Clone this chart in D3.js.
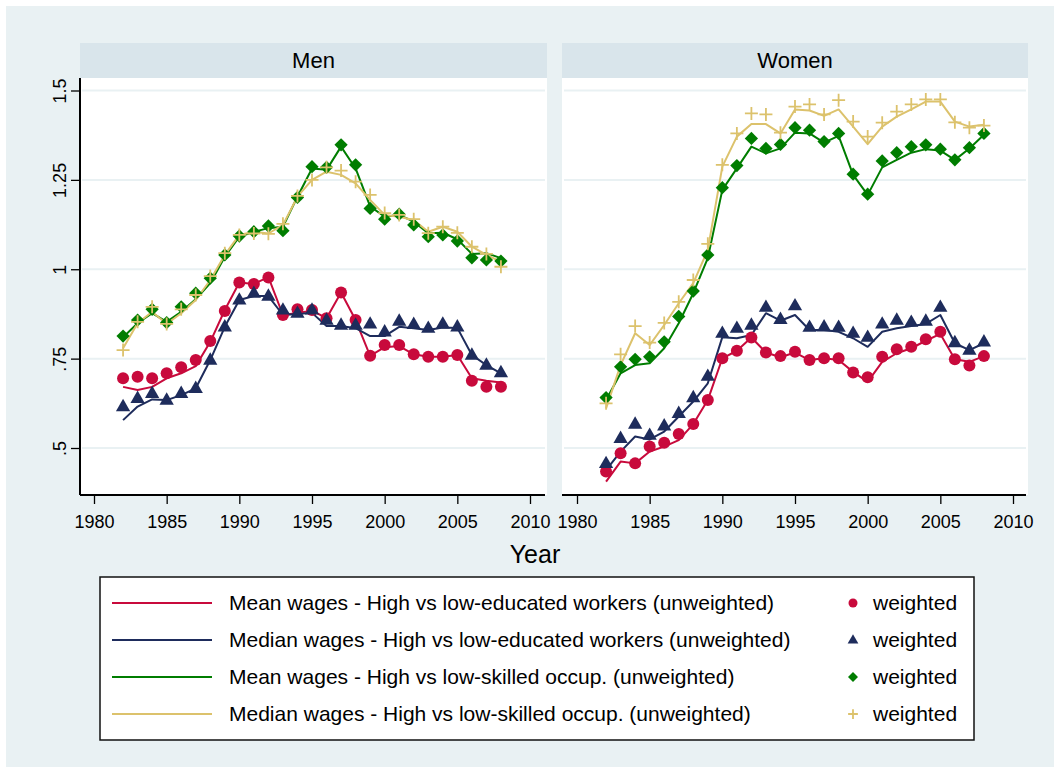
<!DOCTYPE html>
<html lang="en">
<head>
  <meta charset="UTF-8" />
  <title>Wage ratios - Men and Women</title>
  <script src="https://d3js.org/d3.v7.min.js"></script>
  <style>
    html, body { margin: 0; padding: 0; background: #fff; }
    svg text { font-family: "Liberation Sans", Arial, sans-serif; fill: #000; }
  </style>
</head>
<body>
  <div id="chart"></div>

  <script>
    // ---- data ----
    var years = [1982, 1983, 1984, 1985, 1986, 1987, 1988, 1989, 1990, 1991, 1992, 1993, 1994,
                 1995, 1996, 1997, 1998, 1999, 2000, 2001, 2002, 2003, 2004, 2005, 2006, 2007, 2008];

    var panels = ['Men', 'Women'];
    var xTicks = [1980, 1985, 1990, 1995, 2000, 2005, 2010];
    var yTicks = [0.5, 0.75, 1, 1.25, 1.5];
    var yTickLabels = ['.5', '.75', '1', '1.25', '1.5'];

    // Men
    var menMeanEduLine   = [0.671, 0.662, 0.671, 0.695, 0.709, 0.729, 0.797, 0.886, 0.963, 0.959, 0.978, 0.872, 0.878,
                            0.884, 0.863, 0.935, 0.858, 0.758, 0.782, 0.785, 0.762, 0.755, 0.755, 0.760, 0.695, 0.688, 0.683];
    var menMeanEduPts    = [0.695, 0.699, 0.695, 0.709, 0.726, 0.746, 0.799, 0.883, 0.963, 0.959, 0.977, 0.872, 0.888,
                            0.886, 0.863, 0.935, 0.858, 0.758, 0.788, 0.788, 0.762, 0.755, 0.755, 0.760, 0.688, 0.671, 0.671];
    var menMedEduLine    = [0.578, 0.616, 0.636, 0.634, 0.648, 0.667, 0.746, 0.839, 0.914, 0.925, 0.925, 0.872, 0.875,
                            0.878, 0.841, 0.841, 0.835, 0.813, 0.813, 0.839, 0.835, 0.830, 0.837, 0.836, 0.760, 0.732, 0.709];
    var menMedEduPts     = [0.616, 0.639, 0.653, 0.634, 0.653, 0.667, 0.746, 0.839, 0.914, 0.933, 0.925, 0.886, 0.877,
                            0.886, 0.858, 0.844, 0.844, 0.847, 0.825, 0.855, 0.846, 0.835, 0.847, 0.839, 0.760, 0.732, 0.711];
    var menMeanOccLine   = [0.810, 0.849, 0.877, 0.853, 0.881, 0.916, 0.961, 1.035, 1.091, 1.105, 1.115, 1.119, 1.203,
                            1.282, 1.278, 1.343, 1.282, 1.176, 1.147, 1.152, 1.133, 1.101, 1.102, 1.084, 1.043, 1.045, 1.031];
    var menMeanOccPts    = [0.813, 0.858, 0.888, 0.851, 0.895, 0.933, 0.975, 1.040, 1.093, 1.105, 1.121, 1.108, 1.201,
                            1.287, 1.285, 1.348, 1.292, 1.170, 1.140, 1.154, 1.124, 1.091, 1.096, 1.079, 1.032, 1.026, 1.023];
    var menMedOccLine    = [0.779, 0.849, 0.881, 0.847, 0.877, 0.914, 0.970, 1.040, 1.096, 1.105, 1.100, 1.124, 1.203,
                            1.250, 1.273, 1.264, 1.240, 1.194, 1.152, 1.147, 1.138, 1.105, 1.119, 1.105, 1.063, 1.040, 1.021];
    var menMedOccPts     = [0.774, 0.853, 0.895, 0.847, 0.888, 0.928, 0.981, 1.045, 1.096, 1.100, 1.099, 1.127, 1.205,
                            1.250, 1.285, 1.276, 1.245, 1.208, 1.157, 1.152, 1.140, 1.101, 1.119, 1.102, 1.063, 1.043, 1.007];

    // Women
    var womenMeanEduLine = [0.406, 0.462, 0.457, 0.490, 0.504, 0.522, 0.567, 0.634, 0.751, 0.772, 0.809, 0.767, 0.754,
                            0.767, 0.746, 0.751, 0.746, 0.713, 0.685, 0.741, 0.765, 0.779, 0.800, 0.819, 0.748, 0.741, 0.757];
    var womenMeanEduPts  = [0.434, 0.485, 0.457, 0.504, 0.515, 0.539, 0.567, 0.634, 0.751, 0.772, 0.809, 0.767, 0.757,
                            0.769, 0.746, 0.751, 0.751, 0.711, 0.698, 0.755, 0.776, 0.783, 0.804, 0.825, 0.748, 0.731, 0.757];
    var womenMedEduLine  = [0.438, 0.490, 0.532, 0.524, 0.546, 0.588, 0.630, 0.681, 0.810, 0.807, 0.816, 0.877, 0.856,
                            0.872, 0.830, 0.830, 0.825, 0.807, 0.783, 0.825, 0.835, 0.841, 0.847, 0.872, 0.793, 0.774, 0.793];
    var womenMedEduPts   = [0.457, 0.527, 0.567, 0.536, 0.562, 0.597, 0.641, 0.701, 0.821, 0.835, 0.844, 0.894, 0.860,
                            0.898, 0.838, 0.839, 0.838, 0.821, 0.810, 0.847, 0.858, 0.852, 0.855, 0.894, 0.795, 0.774, 0.797];
    var womenMeanOccLine = [0.634, 0.709, 0.732, 0.737, 0.779, 0.849, 0.933, 1.031, 1.222, 1.282, 1.343, 1.324, 1.338,
                            1.382, 1.380, 1.354, 1.373, 1.264, 1.208, 1.285, 1.306, 1.326, 1.336, 1.332, 1.306, 1.338, 1.376];
    var womenMeanOccPts  = [0.641, 0.727, 0.748, 0.755, 0.797, 0.868, 0.939, 1.040, 1.228, 1.290, 1.366, 1.338, 1.349,
                            1.396, 1.389, 1.357, 1.380, 1.266, 1.210, 1.303, 1.326, 1.343, 1.348, 1.336, 1.306, 1.340, 1.380];
    var womenMedOccLine  = [0.611, 0.732, 0.821, 0.788, 0.844, 0.905, 0.961, 1.054, 1.287, 1.371, 1.406, 1.406, 1.380,
                            1.447, 1.444, 1.429, 1.447, 1.399, 1.350, 1.399, 1.427, 1.447, 1.469, 1.469, 1.413, 1.399, 1.404];
    var womenMedOccPts   = [0.625, 0.762, 0.841, 0.795, 0.850, 0.909, 0.970, 1.071, 1.292, 1.380, 1.436, 1.433, 1.382,
                            1.455, 1.461, 1.433, 1.473, 1.413, 1.371, 1.410, 1.441, 1.461, 1.475, 1.475, 1.411, 1.396, 1.402];

    var legendLabels = [
      'Mean wages - High vs low-educated workers (unweighted)',
      'Median wages - High vs low-educated workers (unweighted)',
      'Mean wages - High vs low-skilled occup. (unweighted)',
      'Median wages - High vs low-skilled occup. (unweighted)'
    ];
    var colors = ['#c80a3c', '#1e2c5c', '#007d00', '#dcc26c'];
    var markers = ['circle', 'triangle', 'diamond', 'plus'];

    var seriesByPanel = {
      Men: [
        { line: menMeanEduLine, pts: menMeanEduPts },
        { line: menMedEduLine, pts: menMedEduPts },
        { line: menMeanOccLine, pts: menMeanOccPts },
        { line: menMedOccLine, pts: menMedOccPts }
      ],
      Women: [
        { line: womenMeanEduLine, pts: womenMeanEduPts },
        { line: womenMedEduLine, pts: womenMedEduPts },
        { line: womenMeanOccLine, pts: womenMeanOccPts },
        { line: womenMedOccLine, pts: womenMedOccPts }
      ]
    };

    // ---- layout ----
    var W = 1060, H = 773;
    var bg = '#e9f1f3', stripFill = '#d9e5eb', gridColor = '#e9f1f3';
    var panelBox = {
      Men:   { left: 80, right: 547, x0: 94, x1: 530 },
      Women: { left: 562, right: 1028, x0: 577, x1: 1013 }
    };
    var stripTop = 43, plotTop = 78, plotBottom = 495;

    var y = d3.scaleLinear().domain([0.5, 1.5]).range([448, 90.5]);

    var svg = d3.select('#chart').append('svg')
      .attr('width', W)
      .attr('height', H);

    svg.append('rect').attr('x', 0).attr('y', 0).attr('width', W).attr('height', H).attr('fill', '#fff');
    svg.append('rect').attr('x', 6).attr('y', 6).attr('width', W - 12).attr('height', H - 12).attr('fill', bg);

    function drawMarker(g, type, cx, cy, color, scale) {
      var s = scale || 1;
      if (type === 'circle') {
        g.append('circle').attr('cx', cx).attr('cy', cy).attr('r', 6 * s).attr('fill', color);
      } else if (type === 'triangle') {
        g.append('path')
          .attr('d', d3.symbol().type(d3.symbolTriangle).size(88 * s * s)())
          .attr('transform', 'translate(' + cx + ',' + (cy + 0.5) + ')')
          .attr('fill', color);
      } else if (type === 'diamond') {
        g.append('path')
          .attr('d', d3.symbol().type(d3.symbolSquare).size(88 * s * s)())
          .attr('transform', 'translate(' + cx + ',' + cy + ') rotate(45)')
          .attr('fill', color);
      } else {
        var a = 6.5 * s;
        g.append('path')
          .attr('d', 'M' + (cx - a) + ',' + cy + 'H' + (cx + a) + 'M' + cx + ',' + (cy - a) + 'V' + (cy + a))
          .attr('stroke', color)
          .attr('stroke-width', 1.8)
          .attr('fill', 'none');
      }
    }

    panels.forEach(function (name) {
      var b = panelBox[name];
      var x = d3.scaleLinear().domain([1980, 2010]).range([b.x0, b.x1]);
      var g = svg.append('g');

      // strip
      g.append('rect')
        .attr('x', b.left).attr('y', stripTop)
        .attr('width', b.right - b.left).attr('height', plotTop - stripTop)
        .attr('fill', stripFill);
      g.append('text')
        .attr('x', (b.left + b.right) / 2)
        .attr('y', 68)
        .attr('text-anchor', 'middle')
        .attr('font-size', 22)
        .text(name);

      // plot region
      g.append('rect')
        .attr('x', b.left).attr('y', plotTop)
        .attr('width', b.right - b.left).attr('height', plotBottom - plotTop)
        .attr('fill', '#fff');

      // grid
      g.selectAll('.grid')
        .data(yTicks)
        .enter().append('line')
        .attr('x1', b.left + 2).attr('x2', b.right - 2)
        .attr('y1', d => y(d)).attr('y2', d => y(d))
        .attr('stroke', gridColor)
        .attr('stroke-width', 2);

      // x axis
      var xAxis = g.append('g')
        .attr('transform', 'translate(0,' + plotBottom + ')')
        .call(d3.axisBottom(x).tickValues(xTicks).tickFormat(d3.format('d')).tickSize(9).tickSizeOuter(0));
      xAxis.select('.domain').remove();
      xAxis.selectAll('line').attr('stroke', '#000').attr('stroke-width', 1.3);
      xAxis.selectAll('text').attr('font-size', 18).attr('dy', 0).attr('y', 33)
        .style('font-family', '"Liberation Sans", Arial, sans-serif');
      g.append('line')
        .attr('x1', b.left).attr('x2', b.right - 2)
        .attr('y1', plotBottom).attr('y2', plotBottom)
        .attr('stroke', '#000').attr('stroke-width', 2);

      // y axis only on the men panel
      if (name === 'Men') {
        var yAxis = g.append('g')
          .attr('transform', 'translate(' + b.left + ',0)')
          .call(d3.axisLeft(y).tickValues(yTicks).tickFormat((d, i) => yTickLabels[i]).tickSize(9).tickSizeOuter(0));
        yAxis.select('.domain').remove();
        yAxis.selectAll('line').attr('stroke', '#000').attr('stroke-width', 1.3);
        yAxis.selectAll('text')
          .attr('font-size', 18)
          .attr('x', null).attr('dy', null)
          .attr('text-anchor', 'middle')
          .attr('transform', 'translate(-14,0) rotate(-90)')
          .style('font-family', '"Liberation Sans", Arial, sans-serif');
        g.append('line')
          .attr('x1', b.left).attr('x2', b.left)
          .attr('y1', plotTop).attr('y2', plotBottom)
          .attr('stroke', '#000').attr('stroke-width', 2);
      }

      // series: lines first, then markers, in legend order
      var series = seriesByPanel[name];
      var line = d3.line().x((d, i) => x(years[i])).y(d => y(d));
      series.forEach(function (s, k) {
        g.append('path')
          .attr('d', line(s.line))
          .attr('fill', 'none')
          .attr('stroke', colors[k])
          .attr('stroke-width', 2)
          .attr('stroke-linejoin', 'round');
      });
      series.forEach(function (s, k) {
        s.pts.forEach(function (v, i) {
          drawMarker(g, markers[k], x(years[i]), y(v), colors[k], 1);
        });
      });
    });

    // axis title
    svg.append('text')
      .attr('x', 535).attr('y', 563)
      .attr('text-anchor', 'middle')
      .attr('font-size', 25)
      .text('Year');

    // legend
    var lg = svg.append('g');
    lg.append('rect')
      .attr('x', 100).attr('y', 577)
      .attr('width', 874).attr('height', 163)
      .attr('fill', '#fff')
      .attr('stroke', '#111')
      .attr('stroke-width', 1.5);
    var rowY = [603, 640, 677, 714];
    legendLabels.forEach(function (label, k) {
      var ry = rowY[k];
      lg.append('line')
        .attr('x1', 112).attr('x2', 212)
        .attr('y1', ry).attr('y2', ry)
        .attr('stroke', colors[k]).attr('stroke-width', 2);
      lg.append('text')
        .attr('x', 229).attr('y', ry + 7)
        .attr('font-size', 21)
        .text(label);
      drawMarker(lg, markers[k], 853, ry, colors[k], 0.75);
      lg.append('text')
        .attr('x', 873).attr('y', ry + 7)
        .attr('font-size', 21)
        .text('weighted');
    });
  </script>
</body>
</html>
